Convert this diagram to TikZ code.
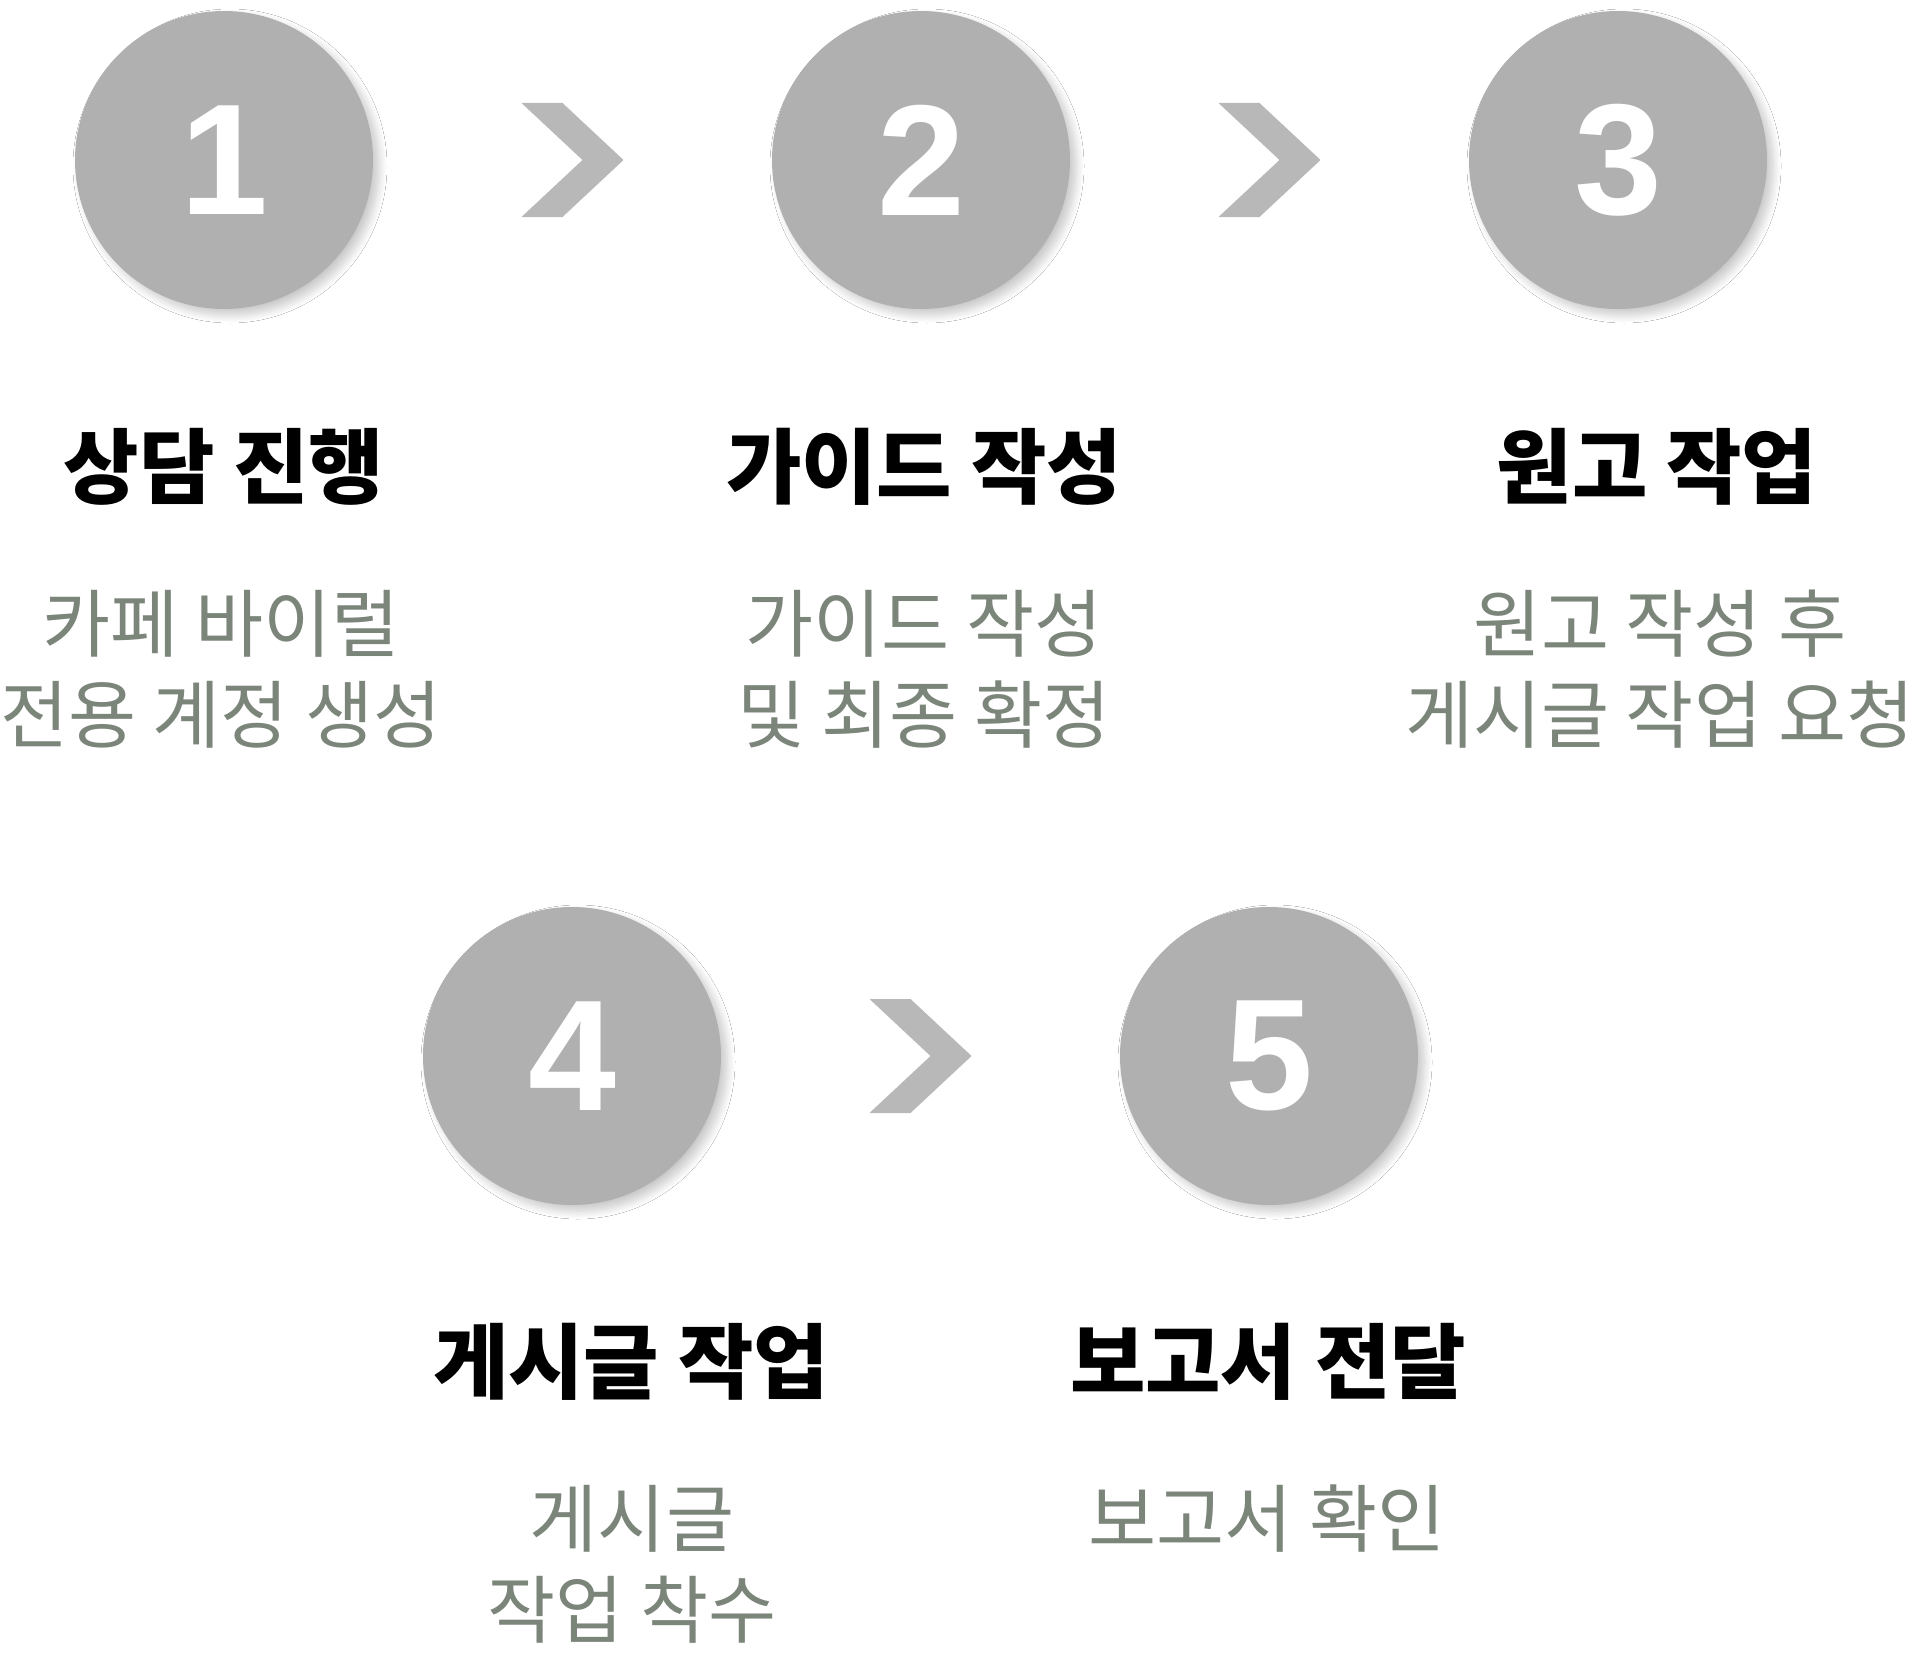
\documentclass[tikz,border=0pt]{standalone}
\usepackage{fontspec}
\newfontfamily\kr{Noto Sans CJK KR}
\newfontfamily\digits{Liberation Sans}
\usetikzlibrary{shadows.blur}
\definecolor{circc}{HTML}{B0B0B0}
\definecolor{chevc}{HTML}{B8B8B8}
\definecolor{subc}{HTML}{7B857A}
\tikzset{
  stepcircle/.style={circle, fill=circc, minimum size=298pt, inner sep=0pt,
    text=white, font=\digits\bfseries\fontsize{158}{158}\selectfont,
    blur shadow={shadow xshift=6pt, shadow yshift=-6pt, shadow blur radius=8pt, shadow blur steps=12, shadow opacity=22}},
  titletext/.style={anchor=base, inner sep=0pt, text=black, font=\kr\bfseries\fontsize{82}{90}\selectfont},
  subtext/.style={anchor=base, inner sep=0pt, align=center, text=subc, font=\kr\fontsize{74}{91}\selectfont},
  chev/.pic={\fill[chevc] (-51,-57) -- (-10,-57) -- (51,0) -- (-10,57) -- (-51,57) -- (10,0) -- cycle;}
}
\begin{document}
\begin{tikzpicture}[x=1pt,y=-1pt]
\useasboundingbox (0,0) rectangle (1920,1659);
\fill[white] (0,0) rectangle (1920,1659);
% circles
\node[stepcircle] (c1) at (224,160) {1};
\node[stepcircle] (c2) at (921,160) {2};
\node[stepcircle] (c3) at (1618,160) {3};
\node[stepcircle] (c4) at (572,1056) {4};
\node[stepcircle] (c5) at (1269,1056) {5};
% chevrons between circles
\path (c1.center) -- coordinate (m12) (c2.center);
\path (c2.center) -- coordinate (m23) (c3.center);
\path (c4.center) -- coordinate (m45) (c5.center);
\pic at (m12) {chev};
\pic at (m23) {chev};
\pic at (m45) {chev};
% titles
\node[titletext] (t1) at (224,497) {상담 진행};
\node[titletext] (t2) at (924,497) {가이드 작성};
\node[titletext] (t3) at (1657,497) {원고 작업};
\node[titletext] (t4) at (631,1392) {게시글 작업};
\node[titletext] (t5) at (1268,1392) {보고서 전달};
% descriptions (base = last line)
\node[subtext] (s1) at (221,742) {카페 바이럴\\전용 계정 생성};
\node[subtext] (s2) at (924,742) {가이드 작성\\및 최종 확정};
\node[subtext] (s3) at (1660,742) {원고 작성 후\\게시글 작업 요청};
\node[subtext] (s4) at (632,1637) {게시글\\작업 착수};
\node[subtext] (s5) at (1267,1546) {보고서 확인};
\end{tikzpicture}
\end{document}
